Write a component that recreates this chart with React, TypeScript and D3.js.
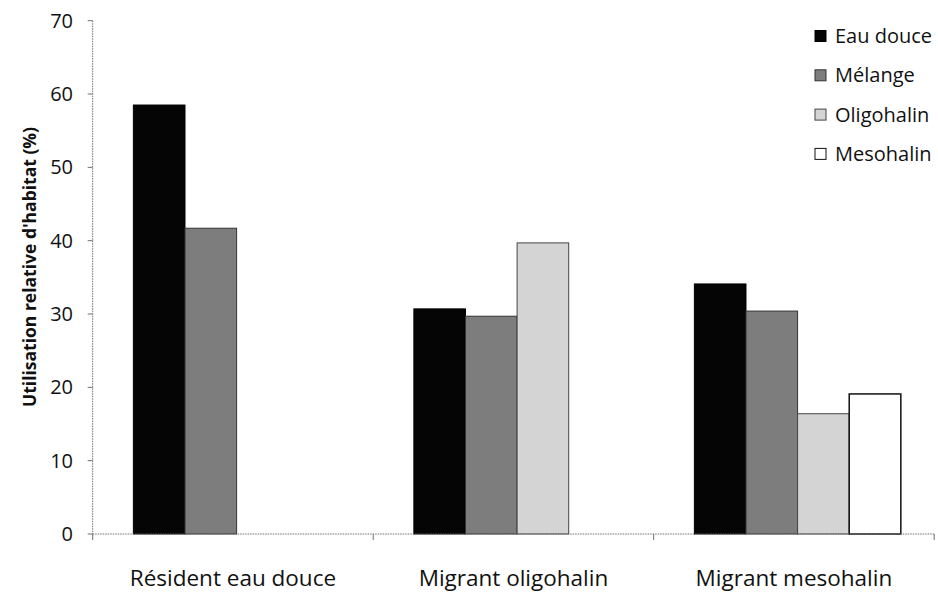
import React, { useEffect, useRef } from 'react';
import * as d3 from 'd3';

const categories = ["Résident eau douce", "Migrant oligohalin", "Migrant mesohalin"];
const seriesNames = ["Eau douce", "Mélange", "Oligohalin", "Mesohalin"];
const eauDouce = [58.5, 30.7, 34.1];
const melange = [41.7, 29.7, 30.4];
const oligohalin = [0, 39.7, 16.4];
const mesohalin = [0, 0, 19.1];
const yTicks = [0, 10, 20, 30, 40, 50, 60, 70];

const seriesValues = [eauDouce, melange, oligohalin, mesohalin];
const fills = ["#050505", "#7d7d7d", "#d4d4d4", "#ffffff"];
const strokes = ["#000", "#333", "#444", "#111"];

const App: React.FC = () => {
  const ref = useRef<SVGSVGElement | null>(null);

  useEffect(() => {
    if (!ref.current) return;
    const width = 938;
    const height = 592;
    const left = 92.7, right = 934.2, top = 20.7, bottom = 534;

    const svg = d3.select(ref.current).attr("width", width).attr("height", height);
    svg.selectAll("*").remove();
    svg.append("rect").attr("width", width).attr("height", height).attr("fill", "#fff");

    const y = d3.scaleLinear().domain([0, 70]).range([bottom, top]);
    const x = d3.scaleBand<string>().domain(categories).range([left, right]).padding(0);
    const bw = x.bandwidth();
    const inner = d3.scaleBand<string>().domain(seriesNames).range([0, bw * 0.736]).padding(0);
    const offset = bw * 0.145;

    const font = "'Open Sans', sans-serif";

    // bars
    seriesNames.forEach((s, si) => {
      const data = categories.map((c, ci) => ({ c, v: seriesValues[si][ci] })).filter(d => d.v > 0);
      svg.append("g")
        .selectAll("rect")
        .data(data)
        .enter()
        .append("rect")
        .attr("x", d => (x(d.c) || 0) + offset + (inner(s) || 0))
        .attr("y", d => y(d.v))
        .attr("width", inner.bandwidth())
        .attr("height", d => bottom - y(d.v))
        .attr("fill", fills[si])
        .attr("stroke", strokes[si])
        .attr("stroke-width", si === 3 ? 1.5 : 1);
    });

    // y axis
    const axisColor = "#6f6f6f";
    svg.append("line")
      .attr("x1", left).attr("x2", left).attr("y1", top).attr("y2", bottom)
      .attr("stroke", axisColor).attr("stroke-width", 1).attr("stroke-dasharray", "1.5 1");
    svg.append("g")
      .selectAll("line")
      .data(yTicks)
      .enter()
      .append("line")
      .attr("x1", left - 5).attr("x2", left)
      .attr("y1", d => y(d)).attr("y2", d => y(d))
      .attr("stroke", axisColor);
    svg.append("g")
      .selectAll("text")
      .data(yTicks)
      .enter()
      .append("text")
      .attr("x", 73)
      .attr("y", d => y(d))
      .attr("dy", "0.35em")
      .attr("text-anchor", "end")
      .attr("font-family", font)
      .attr("font-size", 20)
      .attr("fill", "#111")
      .text(d => d);

    // x axis
    svg.append("line")
      .attr("x1", left).attr("x2", right).attr("y1", bottom).attr("y2", bottom)
      .attr("stroke", axisColor).attr("stroke-width", 1).attr("stroke-dasharray", "1.5 1");
    const bounds = [...categories.map(c => x(c) || 0), right];
    svg.append("g")
      .selectAll("line")
      .data(bounds)
      .enter()
      .append("line")
      .attr("x1", d => d).attr("x2", d => d)
      .attr("y1", bottom).attr("y2", bottom + 6)
      .attr("stroke", axisColor);
    svg.append("g")
      .selectAll("text")
      .data(categories)
      .enter()
      .append("text")
      .attr("x", d => (x(d) || 0) + bw / 2)
      .attr("y", 586)
      .attr("text-anchor", "middle")
      .attr("font-family", font)
      .attr("font-size", 22.5)
      .attr("fill", "#111")
      .text(d => d);

    // y title
    svg.append("text")
      .attr("transform", `translate(30,267) rotate(-90)`)
      .attr("dy", "0.35em")
      .attr("text-anchor", "middle")
      .attr("font-family", font)
      .attr("font-weight", "bold")
      .attr("font-size", 17.5)
      .attr("fill", "#111")
      .text("Utilisation relative d'habitat (%)");

    // legend
    const leg = svg.append("g");
    seriesNames.forEach((s, i) => {
      const cy = 36 + i * 39.3;
      leg.append("rect")
        .attr("x", 815).attr("y", cy - 5.5)
        .attr("width", 11).attr("height", 11)
        .attr("fill", fills[i])
        .attr("stroke", strokes[i]);
      leg.append("text")
        .attr("x", 835).attr("y", cy)
        .attr("dy", "0.35em")
        .attr("font-family", font)
        .attr("font-size", 20)
        .attr("fill", "#111")
        .text(s);
    });
  }, []);

  return <svg ref={ref} style={{ position: "absolute", left: 0, top: 0 }}></svg>;
};

export default App;
